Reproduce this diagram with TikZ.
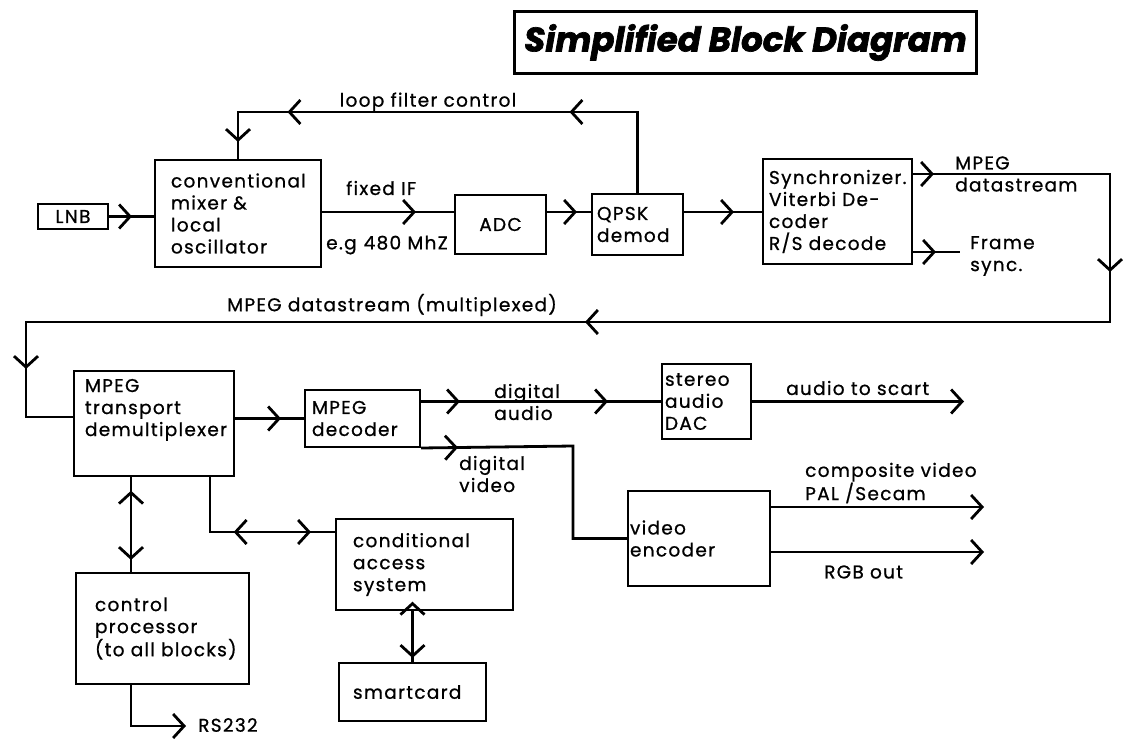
\documentclass[tikz,border=0pt]{standalone}
\usepackage{fontspec}
\setmainfont{Poppins}[LetterSpace=7, FakeBold=0.8]
\usetikzlibrary{arrows.meta,decorations.markings}
\newcommand\blkfont{\fontsize{18.5}{22}\selectfont}
\newcommand\ttlfont{\fontsize{34}{34}\selectfont\bfseries\itshape\addfontfeature{LetterSpace=0,FakeBold=2}}
\tikzset{
  cv/.tip={Straight Barb[length=11pt,width=24pt]},
  cvr/.tip={Straight Barb[length=11pt,width=24pt,reversed]},
  chev/.style={postaction={decorate,decoration={markings,mark=at position #1 with {\arrow{cv}}}}},
  chevr/.style={postaction={decorate,decoration={markings,mark=at position #1 with {\arrow{cvr}}}}},
  wire/.style={line width=2.8pt},
  blk/.style={draw, line width=2pt, rectangle, anchor=north west, align=left,
              inner ysep=0pt, font=\blkfont},
  blkc/.style={draw, line width=2pt, rectangle, anchor=north west, align=center,
              inner sep=0pt, font=\blkfont},
  lbl/.style={font=\blkfont, inner sep=0pt, anchor=west, align=left},
}
\begin{document}
\begin{tikzpicture}[x=1pt,y=-1pt]
\fill[white] (0,0) rectangle (1126,741);
\useasboundingbox (0,0) rectangle (1126,741);

% title
\node[draw, line width=3pt, anchor=north west, minimum width=462pt, minimum height=62pt,
      inner sep=0pt, font=\ttlfont] (title) at (513,10)
      {Simplified Block Diagram};

% blocks
\node[blkc, minimum width=70pt, minimum height=25pt] (lnb) at (37,203) {LNB};
\node[blk, minimum width=166pt, minimum height=107pt, text width=134pt, inner xsep=16pt] (mix) at (154,159)
  {conventional\\mixer \&\\local\\oscillator};
\node[blkc, minimum width=91pt, minimum height=59pt] (adc) at (454,194) {ADC};
\node[blk, minimum width=91pt, minimum height=61pt, text width=81pt, inner xsep=5pt] (qpsk) at (591,193)
  {QPSK\\demod};
\node[blk, minimum width=149pt, minimum height=105pt, text width=137pt, inner xsep=6pt] (sync) at (762,158)
  {Synchronizer.\\Viterbi De-\\coder\\R/S decode};
\node[blk, minimum width=160pt, minimum height=105pt, text width=138pt, inner xsep=11pt] (demux) at (73,370)
  {MPEG\\transport\\demultiplexer\\[10pt]\mbox{}};
\node[blk, minimum width=115pt, minimum height=57pt, text width=101pt, inner xsep=7pt] (dec) at (304,389)
  {MPEG\\decoder};
\node[blk, minimum width=89pt, minimum height=75pt, text width=83pt, inner xsep=3pt] (dac) at (661,363)
  {stereo\\audio\\DAC};
\node[blk, minimum width=142pt, minimum height=95pt, text width=138pt, inner xsep=2pt] (enc) at (627,490)
  {video\\encoder};
\node[blk, minimum width=177pt, minimum height=91pt, text width=143pt, inner xsep=17pt] (ca) at (335,518)
  {conditional\\access\\system};
\node[blk, minimum width=173pt, minimum height=111pt, text width=135pt, inner xsep=19pt] (ctl) at (75,572)
  {control\\processor\\\mbox{(to all blocks)}};
\node[blk, minimum width=147pt, minimum height=58pt, text width=119pt, inner xsep=14pt] (smc) at (338,662)
  {smartcard};

% labels
\node[lbl, anchor=center] (tloop) at (428,102) {loop filter control};
\node[lbl] (tif) at (346,188) {fixed IF};
\node[lbl] (teg) at (326,245) {e.g\hspace{7pt}480 MhZ};
\node[lbl] (tmpo) at (955,174) {MPEG\\datastream};
\node[lbl] (tfr) at (970,256) {Frame\\sync.};
\node[lbl, anchor=center] (tmux) at (392,305) {MPEG datastream (multiplexed)};
\node[lbl] (taud) at (494,402) {digital\\audio};
\node[lbl] (tvid) at (459,474) {digital\\video};
\node[lbl] (tsc) at (786,388) {audio to scart};
\node[lbl] (tcomp) at (805,483) {composite video\\PAL /Secam};
\node[lbl] (trgb) at (824,572) {RGB out};
\node[lbl] (trs) at (198,725) {RS232};

% helper coordinates
\coordinate (sig) at (0,212);
\coordinate (looptop) at (0,112);
\coordinate (c1) at (1110,174);
\coordinate (c2) at (1110,322);
\coordinate (c3) at (26,322);
\coordinate (c4) at (26,417);
\coordinate (fr) at (960,252);
\coordinate (vv) at (573,446);
\coordinate (scart) at (964,0);
\coordinate (cvo) at (984,507);
\coordinate (rgbo) at (984,552);
\coordinate (cpx) at (131,0);
\coordinate (cax) at (210,0);
\coordinate (cay) at (0,532);
\coordinate (rs) at (186,726);

% connectors
\draw[wire, chev=23pt] (lnb.east) -- (lnb.east -| mix.west);
\draw[wire, chev=-38pt] (sig -| mix.east) -- (sig -| adc.west);
\draw[wire, chev=-14pt] (sig -| adc.east) -- (sig -| qpsk.west);
\draw[wire, chev=-28pt] (sig -| qpsk.east) -- (sig -| sync.west);
\draw[wire, chev=149pt, chev=431pt, chev=-17pt]
  (qpsk.north) -- (qpsk.north |- looptop) -- (mix.north |- looptop) -- (mix.north);
\draw[wire, chev=21pt, chev=295pt, chev=870pt, chev=1476pt]
  (sync.east |- c1) -- (c1) -- (c2) -- (c3) -- (c4) -- (c4 -| demux.west);
\draw[wire, chev=-24pt] (sync.east |- fr) -- (fr);
\draw[wire, chev=-23pt] (demux.east |- dec.west) -- (dec.west);
\draw[wire, chev=39pt, chev=-53pt] (dec.east |- dac.west) -- (dac.west);
\draw[wire, chev=37pt] (dec.south east) -- (vv) |- (enc.west);
\draw[wire, -{cv}] (dac.east) -- (dac.east -| scart);
\draw[wire, -{cv}] (enc.east |- cvo) -- (cvo);
\draw[wire, -{cv}] (enc.east |- rgbo) -- (rgbo);
\draw[wire, chevr=28pt, chev=-12pt] (cpx |- demux.south) -- (cpx |- ctl.north);
\draw[wire, chevr=93pt, chev=-24pt] (cax |- demux.south) -- (cax |- cay) -- (cay -| ca.west);
\draw[wire, chevr=5pt, chev=-4pt] (smc.north |- ca.south) -- (smc.north);
\draw[wire, -{cv}] (cpx |- ctl.south) |- (rs);
\end{tikzpicture}
\end{document}
